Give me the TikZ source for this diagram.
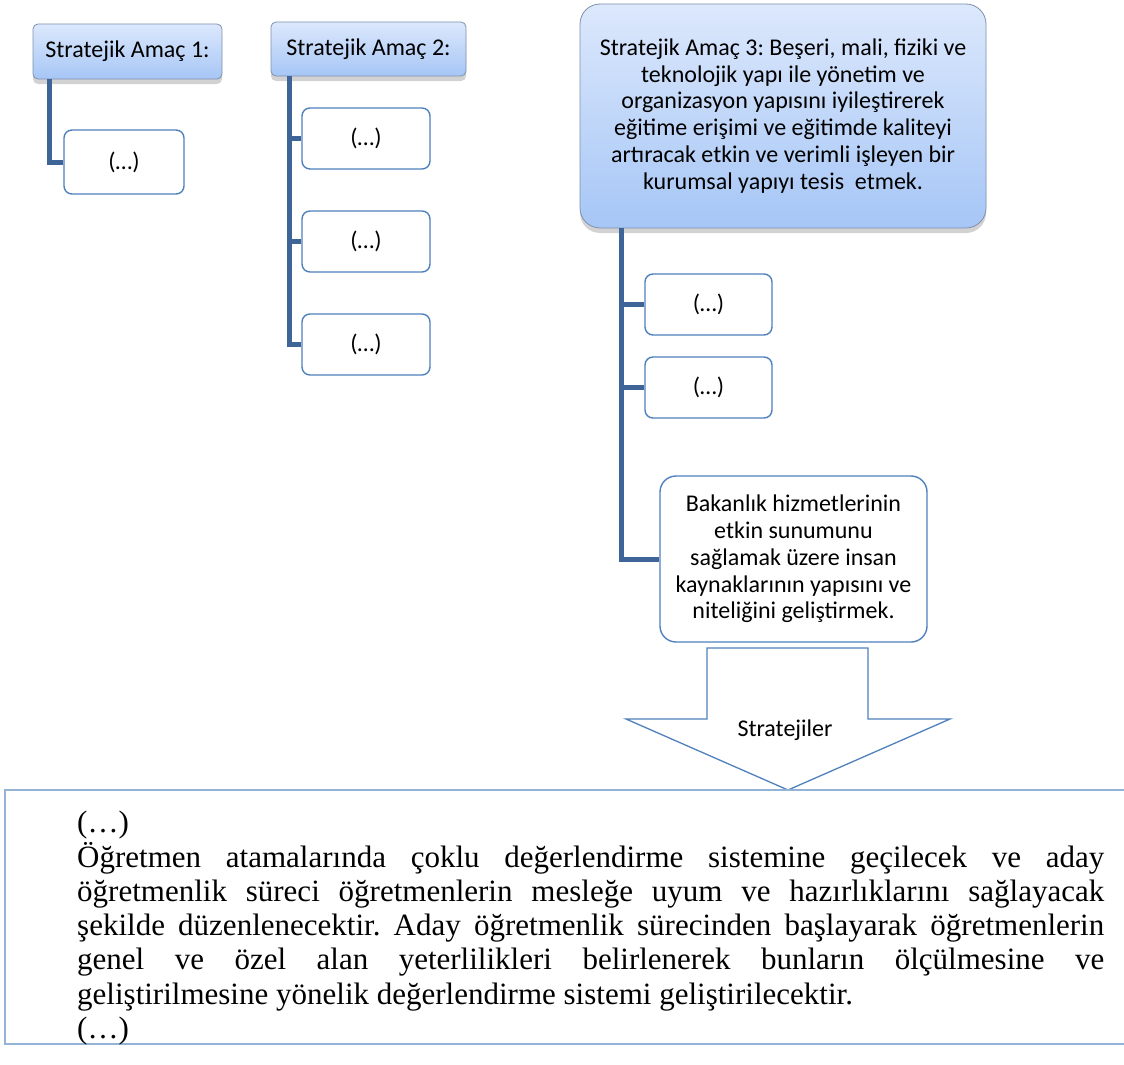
\documentclass[tikz,border=0pt]{standalone}
\usepackage{fontspec}
\setmainfont{Carlito}
\newfontfamily\timesfont{Liberation Serif}
\usepackage{tikz}
\usetikzlibrary{shadows}
\definecolor{AmacTop}{HTML}{DCE8FC}
\definecolor{AmacBottom}{HTML}{A6C6F6}
\definecolor{AmacEdge}{HTML}{8091AD}
\definecolor{ItemEdge}{HTML}{4F81BD}
\definecolor{TrunkBlue}{HTML}{3E6498}
\definecolor{PanelEdge}{HTML}{95B3D7}
\setlength\parindent{0pt}
\frenchspacing

\begin{document}
\begin{tikzpicture}[x=1pt,y=-1pt, every node/.style={font=\fontsize{24}{26.8}\selectfont}]
    \tikzset{amac/.style={draw=AmacEdge,thick,top color=AmacTop,bottom color=AmacBottom,
      rounded corners=5pt,align=center,inner sep=0pt,
      drop shadow={shadow xshift=0pt,shadow yshift=-5pt,opacity=0.35}},
      item/.style={draw=ItemEdge,line width=1.4pt,fill=white,rounded corners=8pt,
      align=center,inner sep=0pt},
      trunk/.style={draw=TrunkBlue,line width=5pt}}
    \clip (0,0) rectangle (1124,1065);
    \fill[white] (0,0) rectangle (1124,1065);
    \node[amac,minimum width=189pt,minimum height=55pt] (a1) at (127.5,51.5) {Stratejik Amaç 1:};
    \node[amac,minimum width=195pt,minimum height=54pt] (a2) at (368.5,49) {Stratejik Amaç 2:};
    \node[amac,rounded corners=20pt,minimum width=406pt,minimum height=224pt] (a3) at (783,116)
      {Stratejik Amaç 3: Beşeri, mali, fiziki ve\\teknolojik yapı ile yönetim ve\\
       organizasyon yapısını iyileştirerek\\eğitime erişimi ve eğitimde kaliteyi\\
       artıracak etkin ve verimli işleyen bir\\kurumsal yapıyı tesis\ \ etmek.};
    \node[item,minimum width=120pt,minimum height=64pt] (c11) at (124,162) {(…)};
    \node[item,minimum width=128pt,minimum height=61pt] (c21) at (366,138.5) {(…)};
    \node[item,minimum width=128pt,minimum height=61pt] (c22) at (366,241.5) {(…)};
    \node[item,minimum width=128pt,minimum height=61pt] (c23) at (366,344.5) {(…)};
    \node[item,minimum width=127pt,minimum height=61pt] (c31) at (708.5,304.5) {(…)};
    \node[item,minimum width=127pt,minimum height=61pt] (c32) at (708.5,387.5) {(…)};
    \node[item,rounded corners=16pt,minimum width=267pt,minimum height=166pt] (c33) at (793.5,559)
      {Bakanlık hizmetlerinin\\etkin sunumunu\\sağlamak üzere insan\\kaynaklarının yapısını ve\\niteliğini geliştirmek.};
    \draw[trunk] ([xshift=17pt]a1.south west) |- (c11.west);
    \draw[trunk] ([xshift=19pt]a2.south west) |- (c23.west);
    \foreach \c in {c21,c22}{\draw[trunk] ([xshift=19pt]a2.south west |- \c.west) -- (\c.west);}
    \draw[trunk] ([xshift=42pt]a3.south west) |- (c33.west);
    \foreach \c in {c31,c32}{\draw[trunk] ([xshift=42pt]a3.south west |- \c.west) -- (\c.west);}
    \draw[draw=ItemEdge,line width=1.3pt,fill=white] (707,648) -- (868,648) -- (868,719) -- (950,719)
      -- (788,790) -- (626,719) -- (707,719) -- cycle;
    \node (lbl) at (785,730) {Stratejiler};
    \draw[PanelEdge,line width=1.5pt] (1130,790) -- (5,790) -- (5,1044) -- (1130,1044);
    \node[anchor=north west,text width=1027pt,align=justify,inner sep=0pt,
      font=\timesfont\fontsize{31}{34.3}\selectfont] (txt) at (77,811)
      {(…)\par Öğretmen atamalarında çoklu değerlendirme sistemine geçilecek ve aday\linebreak
       öğretmenlik süreci öğretmenlerin mesleğe uyum ve hazırlıklarını sağlayacak\linebreak
       şekilde düzenlenecektir. Aday öğretmenlik sürecinden başlayarak öğretmenlerin\linebreak
       genel ve özel alan yeterlilikleri belirlenerek bunların ölçülmesine ve\linebreak
       geliştirilmesine yönelik değerlendirme sistemi geliştirilecektir.\par (…)};
\end{tikzpicture}
\end{document}
